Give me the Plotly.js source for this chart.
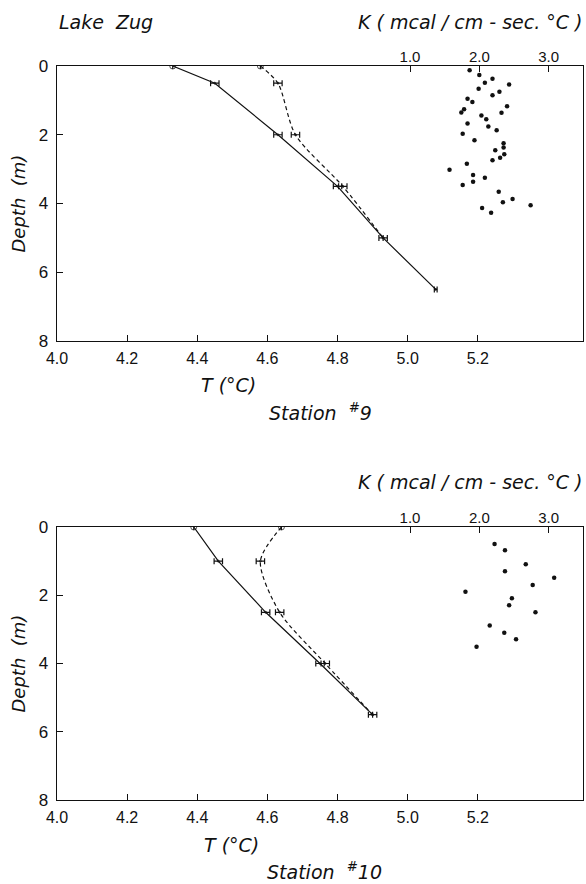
<!DOCTYPE html>
<html><head><meta charset="utf-8">
<script src="https://cdn.plot.ly/plotly-3.0.1.min.js"></script>
<style>html,body{margin:0;padding:0;background:#fff}</style>
</head><body><div id="chart" style="width:586px;height:884px"></div>
<script>
// ---- axis ticks ----
const depthTicks = [0, 2, 4, 6, 8];
const tempTicks = [4.0, 4.2, 4.4, 4.6, 4.8, 5.0, 5.2];
const tempTickText = ["4.0", "4.2", "4.4", "4.6", "4.8", "5.0", "5.2"];
const kTicks = [1, 2, 3];
const kTickText = ["1.0", "2.0", "3.0"];

// ---- Station #9 ----
const s9SolidT = [4.33, 4.45, 4.63, 4.80, 4.93, 5.08];
const s9SolidD = [0, 0.5, 2.0, 3.5, 5.0, 6.5];
const s9SolidErr = [0, 0.012, 0.012, 0.012, 0.012, 0.004];
const s9DashT = [4.58, 4.63, 4.68, 4.815, 4.93];
const s9DashD = [0, 0.5, 2.0, 3.5, 5.0];
const s9DashErr = [0, 0.012, 0.012, 0.012, 0];
const s9K = [1.86, 2.00, 2.19, 2.08, 2.43, 1.99, 2.29, 2.19, 1.83, 1.90, 2.40, 2.32, 1.78, 1.74, 2.03, 2.10, 1.83, 2.13, 2.25, 1.76, 1.93, 2.35, 2.35, 2.23, 2.36, 2.30, 2.19, 1.82, 1.57, 1.91, 2.08, 1.91, 1.76, 2.28, 2.48, 2.34, 2.74, 2.04, 2.17];
const s9KD = [0.12, 0.26, 0.37, 0.49, 0.54, 0.66, 0.75, 0.85, 0.95, 1.05, 1.17, 1.36, 1.26, 1.35, 1.44, 1.55, 1.67, 1.76, 1.87, 1.97, 2.16, 2.25, 2.37, 2.45, 2.57, 2.67, 2.74, 2.84, 3.02, 3.17, 3.25, 3.37, 3.46, 3.66, 3.87, 3.96, 4.05, 4.13, 4.27];

// ---- Station #10 ----
const s10SolidT = [4.39, 4.46, 4.595, 4.75, 4.90];
const s10SolidD = [0, 1.0, 2.5, 4.0, 5.5];
const s10SolidErr = [0, 0.012, 0.012, 0.012, 0.012];
const s10DashT = [4.64, 4.58, 4.635, 4.765, 4.90];
const s10DashD = [0, 1.0, 2.5, 4.0, 5.5];
const s10DashErr = [0, 0.012, 0.012, 0.012, 0];
const s10K = [2.22, 2.37, 2.67, 2.37, 3.08, 2.77, 1.80, 2.47, 2.43, 2.81, 2.15, 2.36, 2.53, 1.96];
const s10KD = [0.50, 0.68, 1.09, 1.30, 1.49, 1.70, 1.90, 2.09, 2.29, 2.50, 2.89, 3.10, 3.29, 3.51];

const W = 586, H = 884;
const fx = p => p / W;
const fy = p => 1 - p / H;
const L = 57, R = 583;
const top1 = 66, bot1 = 341, top2 = 527, bot2 = 800;
const kRange = [-4.094, 3.496];

const black = '#111';
const FONT = 'Liberation Sans, Arial, sans-serif';
const LFONT = 'DejaVu Sans, sans-serif';

function markerSpec(n) {
  const sym = [], sz = [];
  for (let i = 0; i < n; i++) { sym.push(i === 0 ? 'circle-open' : 'circle'); sz.push(i === 0 ? 6 : 2); }
  return {symbol: sym, size: sz, color: black, line: {width: 1, color: black}};
}
function profile(T, D, E, xa, ya, dash, shape) {
  return {
    x: T, y: D, xaxis: xa, yaxis: ya, type: 'scatter', mode: 'lines+markers',
    line: {color: black, width: 1.2, dash: dash, shape: shape, smoothing: 0.8},
    marker: markerSpec(T.length),
    error_x: {type: 'data', array: E, visible: true, color: black, thickness: 1.2, width: 3},
    showlegend: false, hoverinfo: 'skip'
  };
}
function kpts(K, D, xa, ya) {
  return {x: K, y: D, xaxis: xa, yaxis: ya, type: 'scatter', mode: 'markers',
    marker: {size: 4.5, color: black}, showlegend: false, hoverinfo: 'skip'};
}

const data = [
  profile(s9SolidT, s9SolidD, s9SolidErr, 'x', 'y', 'solid', 'linear'),
  profile(s9DashT, s9DashD, s9DashErr, 'x', 'y', '4px,3px', 'spline'),
  kpts(s9K, s9KD, 'x2', 'y'),
  profile(s10SolidT, s10SolidD, s10SolidErr, 'x3', 'y2', 'solid', 'linear'),
  profile(s10DashT, s10DashD, s10DashErr, 'x3', 'y2', '4px,3px', 'spline'),
  kpts(s10K, s10KD, 'x4', 'y2')
];

function tAxis(anchor) {
  return {domain: [fx(L), fx(R)], anchor: anchor, range: [4.0, 5.5], tickmode: 'array',
    tickvals: tempTicks, ticktext: tempTickText, ticks: 'inside', ticklen: 6, tickcolor: black,
    showline: true, linecolor: black, linewidth: 1.3, mirror: true, showgrid: false, zeroline: false,
    tickfont: {family: FONT, size: 16, color: black}, ticklabelstandoff: 2, fixedrange: true};
}
function kAxis(over, anchor) {
  return {overlaying: over, anchor: anchor, side: 'top', range: kRange, tickmode: 'array',
    tickvals: kTicks, ticktext: kTickText, ticks: 'inside', ticklen: 6, tickcolor: black,
    showline: false, showgrid: false, zeroline: false, tickfont: {family: FONT, size: 15, color: black},
    ticklabelstandoff: 0, fixedrange: true};
}
function dAxis(anchor, t, b) {
  return {domain: [fy(b), fy(t)], anchor: anchor, range: [8, 0], tickmode: 'array',
    tickvals: depthTicks, ticks: 'inside', ticklen: 6, tickcolor: black,
    showline: true, linecolor: black, linewidth: 1.3, mirror: true, showgrid: false, zeroline: false,
    tickfont: {family: FONT, size: 17, color: black}, ticklabelstandoff: 4, fixedrange: true};
}

function ann(text, x, y, size, opts) {
  return Object.assign({text: text, xref: 'paper', yref: 'paper', x: fx(x), y: fy(y),
    showarrow: false, font: {family: LFONT, size: size, color: black},
    xanchor: 'center', yanchor: 'middle'}, opts || {});
}

const layout = {
  width: W, height: H, margin: {l: 0, r: 0, t: 0, b: 0},
  paper_bgcolor: '#fff', plot_bgcolor: '#fff', showlegend: false,
  xaxis: tAxis('y'), xaxis2: kAxis('x', 'y'),
  yaxis: dAxis('x', top1, bot1),
  xaxis3: tAxis('y2'), xaxis4: kAxis('x3', 'y2'),
  yaxis2: dAxis('x3', top2, bot2),
  annotations: [
    ann('<i>Lake  Zug</i>', 57, 22, 19, {xanchor: 'left'}),
    ann('<i>K ( mcal / cm - sec. °C )</i>', 585, 22, 19, {xanchor: 'right'}),
    ann('<i>Depth  (m)</i>', 18, (top1 + bot1) / 2, 18, {textangle: -90}),
    ann('<i>T (°C)</i>', 228, bot1 + 44, 19),
    ann('<i>Station  <sup>#</sup>9</i>', 320, bot1 + 71, 19),
    ann('<i>K ( mcal / cm - sec. °C )</i>', 585, top2 - 45, 19, {xanchor: 'right'}),
    ann('<i>Depth  (m)</i>', 18, (top2 + bot2) / 2, 18, {textangle: -90}),
    ann('<i>T (°C)</i>', 231, bot2 + 45, 19),
    ann('<i>Station  <sup>#</sup>10</i>', 324, bot2 + 71, 19)
  ]
};

Plotly.newPlot('chart', data, layout, {staticPlot: true, displayModeBar: false});
</script>
</body></html>
